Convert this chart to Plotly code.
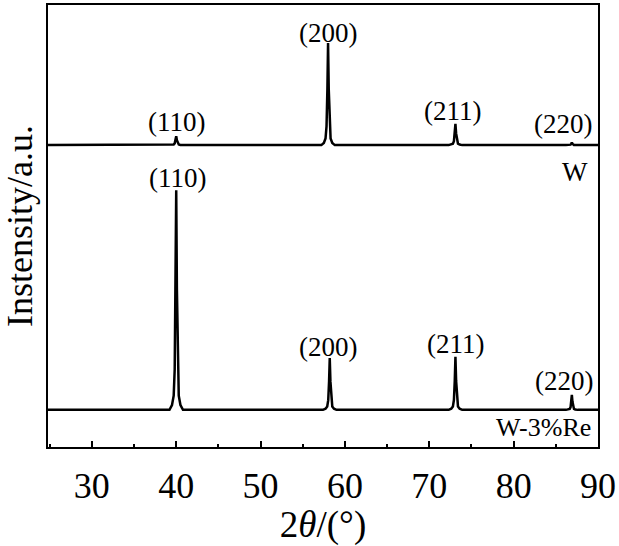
import plotly.graph_objects as go

# W series (pure tungsten), offset upward
w_x = [24.8,
       39.2, 39.5, 39.7, 39.82, 39.92, 40.0, 40.08, 40.18, 40.3, 40.5, 40.8,
       57.2, 57.5, 57.7, 57.82, 57.92, 58.0, 58.08, 58.18, 58.3, 58.5, 58.8,
       72.3, 72.6, 72.8, 72.92, 73.02, 73.1, 73.18, 73.28, 73.4, 73.6, 73.9,
       86.2, 86.5, 86.65, 86.75, 86.83, 86.9, 86.97, 87.05, 87.15, 87.3, 87.6,
       90.0]
w_y = [68.3,
       68.3, 68.35, 68.45, 68.7, 69.4, 70.3, 69.4, 68.7, 68.45, 68.35, 68.3,
       68.3, 68.8, 69.8, 72.6, 81.0, 91.4, 81.0, 72.6, 69.8, 68.8, 68.3,
       68.3, 68.42, 68.62, 69.2, 70.94, 73.1, 70.94, 69.2, 68.62, 68.42, 68.3,
       68.3, 68.31, 68.34, 68.41, 68.63, 68.9, 68.63, 68.41, 68.34, 68.31, 68.3,
       68.3]

# W-3%Re series
re_x = [24.8,
        39.2, 39.5, 39.7, 39.82, 39.92, 40.0, 40.08, 40.18, 40.3, 40.5, 40.8,
        57.4, 57.7, 57.9, 58.02, 58.12, 58.2, 58.28, 58.38, 58.5, 58.7, 59.0,
        72.3, 72.6, 72.8, 72.92, 73.02, 73.1, 73.18, 73.28, 73.4, 73.6, 73.9,
        86.2, 86.5, 86.65, 86.75, 86.83, 86.9, 86.97, 87.05, 87.15, 87.3, 87.6,
        90.0]
re_y = [8.4,
        8.4, 9.5, 11.6, 17.6, 35.74, 58.1, 35.74, 17.6, 11.6, 9.5, 8.4,
        8.4, 8.66, 9.15, 10.6, 14.84, 20.1, 14.84, 10.6, 9.15, 8.66, 8.4,
        8.4, 8.67, 9.18, 10.65, 15.0, 20.4, 15.0, 10.65, 9.18, 8.67, 8.4,
        8.4, 8.48, 8.62, 9.03, 10.27, 11.8, 10.27, 9.03, 8.62, 8.48, 8.4,
        8.4]

# Peak labels
lab_text = ["(110)", "(200)", "(211)", "(220)", "W",
            "(110)", "(200)", "(211)", "(220)"]
lab_x = [40.0, 58.0, 72.7, 85.8, 87.3,
         40.2, 58.0, 73.1, 86.0]
lab_y = [73.5, 93.7, 76.0, 73.1, 62.2,
         60.9, 22.6, 23.3, 14.9]
sample2_text = "W-3%Re"
sample2_x = 89.4
sample2_y = 4.5

x_ticks = [30, 40, 50, 60, 70, 80, 90]

FONT = "Liberation Serif, Times New Roman, serif"

fig = go.Figure()
fig.add_trace(go.Scatter(x=w_x, y=w_y, mode="lines",
                         line=dict(color="black", width=2.5), showlegend=False))
fig.add_trace(go.Scatter(x=re_x, y=re_y, mode="lines",
                         line=dict(color="black", width=2.5), showlegend=False))

for t, x, y in zip(lab_text, lab_x, lab_y):
    fig.add_annotation(x=x, y=y, text=t, showarrow=False, xref="x", yref="y",
                       xanchor="center", yanchor="middle",
                       font=dict(family=FONT, size=27, color="black"))
fig.add_annotation(x=sample2_x, y=sample2_y, text=sample2_text, showarrow=False,
                   xref="x", yref="y", xanchor="right", yanchor="middle",
                   font=dict(family=FONT, size=26, color="black"))

fig.update_layout(
    width=619, height=546,
    margin=dict(l=48, r=21, t=5, b=99, autoexpand=False),
    paper_bgcolor="white", plot_bgcolor="white",
    font=dict(family=FONT, color="black"),
    xaxis=dict(range=[24.8, 90], tickvals=x_ticks, ticks="inside", ticklen=6,
               tickwidth=2, tickcolor="black",
               minor=dict(dtick=5, tick0=25, ticks="inside", ticklen=3,
                          tickwidth=2, tickcolor="black"),
               showline=True, linecolor="black", linewidth=2, mirror=True,
               showgrid=False, zeroline=False, ticklabelstandoff=6,
               tickfont=dict(family=FONT, size=36, color="black"),
               title=dict(text="2<i>θ</i>/(°)", standoff=8,
                          font=dict(family=FONT, size=37, color="black"))),
    yaxis=dict(range=[0, 100], showticklabels=False, ticks="",
               showline=True, linecolor="black", linewidth=2, mirror=True,
               showgrid=False, zeroline=False,
               title=dict(text="Instensity/a.u.", standoff=6,
                          font=dict(family=FONT, size=36, color="black"))),
)

fig.write_html("out.html", config={"displayModeBar": False},
               post_script="document.body.style.margin='0px';")
